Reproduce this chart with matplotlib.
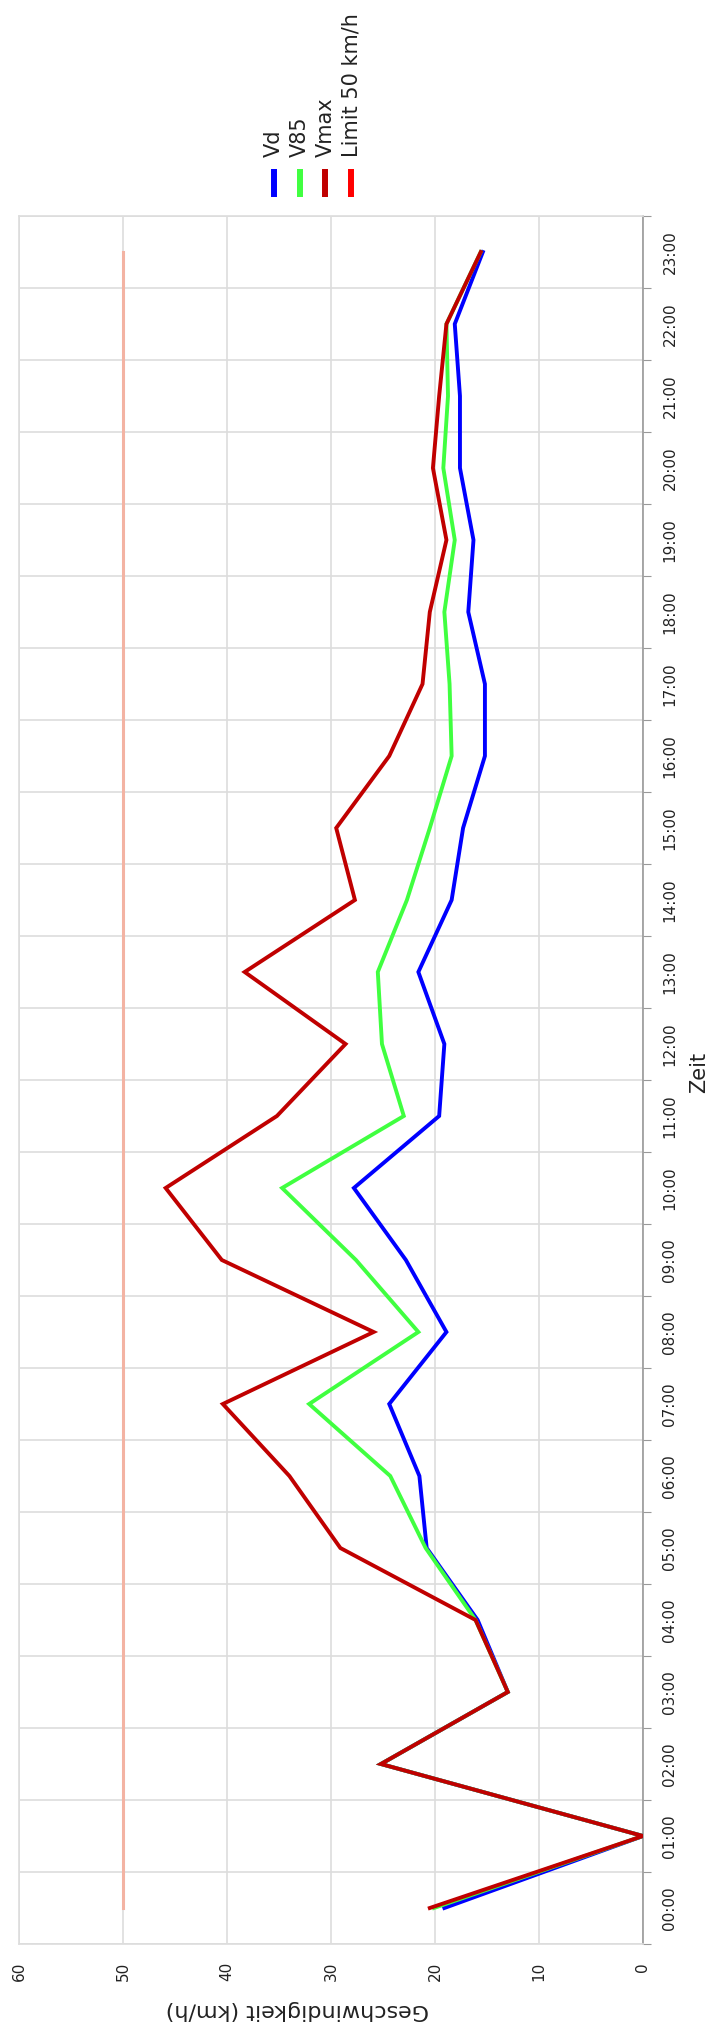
import matplotlib
matplotlib.use('Agg')
import matplotlib.pyplot as plt
from matplotlib.lines import Line2D
import numpy as np

# Zeitachse (Kategorien)
hours = ["00:00", "01:00", "02:00", "03:00", "04:00", "05:00", "06:00", "07:00",
         "08:00", "09:00", "10:00", "11:00", "12:00", "13:00", "14:00", "15:00",
         "16:00", "17:00", "18:00", "19:00", "20:00", "21:00", "22:00", "23:00"]

# Geschwindigkeiten in km/h
vd = [19.1, 0.0, 25.2, 13.0, 15.9, 20.8, 21.5, 24.4, 18.9, 22.8, 27.8, 19.6,
      19.1, 21.6, 18.4, 17.3, 15.2, 15.2, 16.8, 16.3, 17.6, 17.6, 18.1, 15.4]
v85 = [20.1, 0.0, 25.2, 13.0, 16.1, 20.9, 24.3, 32.1, 21.6, 27.6, 34.7, 23.0,
       25.1, 25.5, 22.7, 20.5, 18.4, 18.6, 19.1, 18.1, 19.2, 18.75, 18.9, 15.6]
vmax = [20.5, 0.0, 25.2, 13.0, 16.1, 29.1, 34.0, 40.4, 25.9, 40.5, 45.9, 35.2,
        28.6, 38.3, 27.7, 29.5, 24.4, 21.2, 20.5, 18.9, 20.2, 19.6, 18.9, 15.6]
limit = [50] * 24

speed_ticks = [0, 10, 20, 30, 40, 50, 60]

names = ["Vd", "V85", "Vmax", "Limit 50 km/h"]
colors = ["#0000ff", "#40ff40", "#c00000", "#ff0000"]

W, H = 710, 2035
fig = plt.figure(figsize=(W / 100, H / 100), dpi=100)
ax = fig.add_axes([19 / W, (H - 1944) / H, (643 - 19) / W, (1944 - 216) / H])

pos = np.arange(len(hours))
ax.plot(limit, pos, color='#f3b3a3', lw=2.2, zorder=2)
for vals, c in zip([vd, v85, vmax], colors[:3]):
    ax.plot(vals, pos, color=c, lw=2.8, solid_joinstyle='miter', zorder=3)

ax.set_xlim(60, 0)
ax.set_ylim(-0.5, 23.5)

txt = '#222222'
ax.set_xticks(speed_ticks)
ax.set_xticklabels([str(v) for v in speed_ticks], rotation=90)
ax.tick_params(axis='x', length=0, pad=13, labelsize=11, labelcolor=txt)

ax.yaxis.tick_right()
ax.set_yticks(np.arange(-0.5, 24, 1))
ax.set_yticklabels([])
ax.set_yticks(pos, minor=True)
ax.set_yticklabels(hours, minor=True, rotation=90, va='center')
ax.tick_params(axis='y', which='major', length=6, color='#999999', direction='out')
ax.tick_params(axis='y', which='minor', length=0, pad=14, labelsize=11, labelcolor=txt)
ax.tick_params(axis='y', which='both', left=False, labelleft=False, right=True, labelright=True)

ax.grid(True, which='major', color='#dddddd', lw=1.2)
ax.set_axisbelow(True)
for s in ['top', 'left', 'bottom']:
    ax.spines[s].set_color('#dddddd')
    ax.spines[s].set_linewidth(1.2)
ax.spines['right'].set_color('#999999')
ax.spines['right'].set_linewidth(1.2)

ax.set_xlabel('Geschwindigkeit (km/h)', rotation=180, fontsize=16, color=txt)
ax.xaxis.set_label_coords((297 - 19) / 624, -(2010 - 1944) / 1728)
ax.xaxis.label.set_va('center')

ax.yaxis.set_label_position('right')
ax.set_ylabel('Zeit', rotation=90, fontsize=15, color=txt)
ax.yaxis.set_label_coords((699 - 19) / 624, (1944 - 1072) / 1728)
ax.yaxis.label.set_va('center')
ax.yaxis.label.set_ha('center')

# Legende von Hand (gedreht)
for i, (n, c) in enumerate(zip(names, colors)):
    x = (274 + 25.7 * i) / W
    fig.add_artist(Line2D([x, x], [1 - 169 / H, 1 - 197 / H], color=c, lw=4.3,
                          solid_capstyle='butt', transform=fig.transFigure))
    fig.text(x, 1 - 157 / H, n, rotation=90, ha='center', va='bottom',
             fontsize=15, color=txt)

fig.savefig('out.png', dpi=100)
